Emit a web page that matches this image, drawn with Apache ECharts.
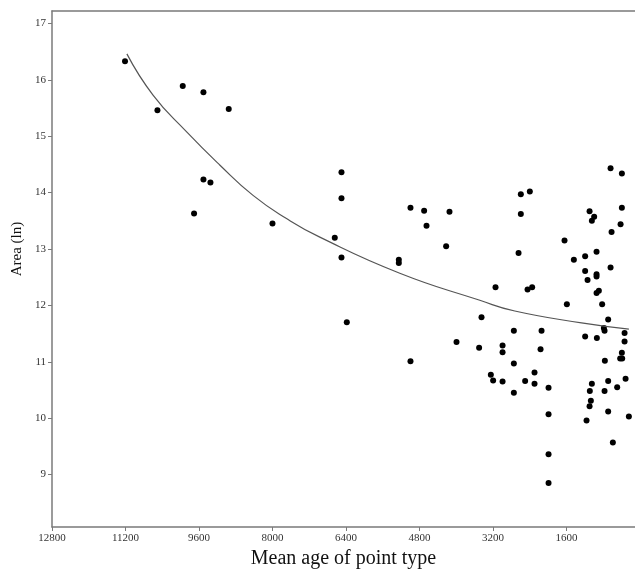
<!DOCTYPE html>
<html>
<head>
<meta charset="utf-8">
<script src="https://cdn.jsdelivr.net/npm/echarts@6/dist/echarts.min.js"></script>
<style>html,body{margin:0;padding:0;background:#fff}#c{width:635px;height:571px}</style>
</head>
<body>
<div id="c"></div>
<script>
var xTicks = [12800, 11200, 9600, 8000, 6400, 4800, 3200, 1600];
var yTicks = [9, 10, 11, 12, 13, 14, 15, 16, 17];

var pointAge = [11211,10505,9954,9504,8953,9504,9351,9708,8001,6499,6499,6645,6499,5251,5251,4997,4700,4648,4148,4221,
  2595,2399,2595,2645,1644,1441,1195,947,1099,999,1049,642,396,396,424,620,642,1195,947,947,1143,3146,2449,2349,947,897,
  1593,825,694,788,773,337,337,1195,940,396,433,389,766,315,498,694,1049,1093,773,1071,1099,694,1165,243,592,
  1992,1992,1992,1992,2144,2166,2297,2297,2501,2747,2747,2747,2993,2993,2993,3248,3198,3503,3451,3995,4997,6383];
var pointArea = [16.33,15.46,15.89,15.78,15.48,14.23,14.18,13.63,13.45,14.36,13.90,13.20,12.85,12.81,12.75,13.73,13.68,13.41,13.66,13.05,
  13.97,14.02,13.62,12.93,13.15,12.81,12.87,12.95,13.67,13.57,13.50,14.43,14.34,13.73,13.44,13.30,12.67,12.61,12.55,12.51,12.45,12.32,12.28,12.32,12.22,12.26,
  12.02,12.02,11.75,11.60,11.55,11.51,11.36,11.45,11.42,11.16,11.06,11.06,11.02,10.70,10.55,10.66,10.61,10.48,10.48,10.31,10.21,10.12,9.96,10.03,9.57,
  10.54,10.07,9.36,8.85,11.55,11.22,10.81,10.61,10.66,11.55,10.97,10.45,11.29,11.17,10.65,10.77,10.67,11.25,11.79,11.35,11.01,11.70];

var curveAge  = [243, 1274, 2727, 3488, 5230, 6971, 7696, 8424, 9149, 9874, 10601, 11170];
var curveArea = [11.58, 11.69, 11.90, 12.09, 12.57, 13.21, 13.54, 13.95, 14.49, 15.08, 15.73, 16.46];

var scatterData = pointAge.map(function (a, i) { return [a, pointArea[i]]; });
var curveData = curveAge.map(function (a, i) { return [a, curveArea[i]]; });

var axisGray = '#7a7a7a';
var font = 'Liberation Serif';
var plain = function (v) { return String(v); };

var chart = echarts.init(document.getElementById('c'), null, {renderer: 'canvas'});
chart.setOption({
  animation: false,
  backgroundColor: '#fff',
  grid: {left: 52, right: 0, top: 11, bottom: 44, containLabel: false, outerBoundsMode: 'none'},
  xAxis: [{
    type: 'value', inverse: true, min: 110, max: 12800,
    position: 'bottom',
    axisLine: {show: true, onZero: false, lineStyle: {color: axisGray, width: 1.5}},
    axisTick: {show: true, length: 4, lineStyle: {color: axisGray}, customValues: xTicks},
    axisLabel: {color: '#333', fontFamily: font, fontSize: 11, margin: 6, customValues: xTicks, formatter: plain},
    splitLine: {show: false},
    name: 'Mean age of point type', nameLocation: 'middle', nameGap: 21,
    nameTextStyle: {color: '#111', fontFamily: font, fontSize: 20}
  }, {
    type: 'value', inverse: true, min: 110, max: 12800, position: 'top',
    axisLine: {show: true, onZero: false, lineStyle: {color: axisGray, width: 1.5}},
    axisTick: {show: false}, axisLabel: {show: false}, splitLine: {show: false}
  }],
  yAxis: {
    type: 'value', min: 8.07, max: 17.22,
    axisLine: {show: true, onZero: false, lineStyle: {color: axisGray, width: 1.5}},
    axisTick: {show: true, length: 4, lineStyle: {color: axisGray}, customValues: yTicks},
    axisLabel: {color: '#333', fontFamily: font, fontSize: 11, margin: 6, customValues: yTicks, formatter: plain},
    splitLine: {show: false}
  },
  graphic: [{
    type: 'text', x: 17, y: 249, rotation: Math.PI / 2,
    style: {text: 'Area (ln)', fontFamily: font, fontSize: 15, fill: '#111', align: 'center', verticalAlign: 'middle'}
  }],
  series: [{
    type: 'scatter', data: scatterData, symbolSize: 6,
    itemStyle: {color: '#000', opacity: 1}
  }, {
    type: 'line', data: curveData, smooth: 0.5, showSymbol: false,
    lineStyle: {color: '#555', width: 1.2}
  }]
});
</script>
</body>
</html>
